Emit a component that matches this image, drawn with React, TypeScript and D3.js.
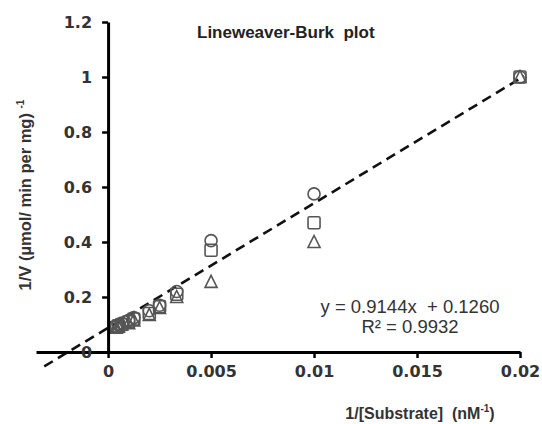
import React, { useRef, useEffect } from 'react';
import * as d3 from 'd3';

// substrate reciprocals (1/nM)
const xValues = [0.02, 0.01, 0.005, 0.003333, 0.0025, 0.002, 0.00125, 0.001, 0.000667, 0.0005, 0.0004];
// 1/V for the three replicate series
const circleValues = [1.0, 0.575, 0.405, 0.22, 0.17, 0.15, 0.125, 0.115, 0.105, 0.1, 0.095];
const squareValues = [1.0, 0.47, 0.37, 0.21, 0.165, 0.14, 0.12, 0.11, 0.1, 0.095, 0.09];
const triangleValues = [1.0, 0.4, 0.255, 0.2, 0.16, 0.135, 0.115, 0.105, 0.1, 0.092, 0.088];

const xTicks = [0, 0.005, 0.01, 0.015, 0.02];
const yTicks = [0, 0.2, 0.4, 0.6, 0.8, 1, 1.2];

// trendline as drawn on the chart
const trendSlope = 45.3;
const trendIntercept = 0.088;
const trendRange = [-0.0031, 0.0202];

const W = 542;
const H = 424;

const LineweaverBurk = () => {
  const ref = useRef<SVGSVGElement>(null);

  useEffect(() => {
    const svg = d3.select(ref.current);
    svg.selectAll('*').remove();

    const x = d3.scaleLinear().domain([-0.0035, 0.02]).range([36, 520]);
    const y = d3.scaleLinear().domain([0, 1.2]).range([352, 22]);
    const font = '"Liberation Sans", Arial, sans-serif';
    const tickFont = '"DejaVu Sans", sans-serif';

    // trendline (drawn behind the markers)
    const line = d3.line<number>().x(d => x(d)).y(d => y(trendSlope * d + trendIntercept));
    svg.append('path')
      .attr('d', line(trendRange))
      .attr('fill', 'none')
      .attr('stroke', '#111')
      .attr('stroke-width', 2.6)
      .attr('stroke-dasharray', '10,6');

    // markers
    const stroke = '#555';
    const sw = 1.6;
    const pts = (vals: number[]) => xValues.map((xv, i) => [x(xv), y(vals[i])]);

    svg.append('g').selectAll('path')
      .data(pts(triangleValues))
      .enter().append('path')
      .attr('d', d => `M${d[0]},${d[1] - 6.5}L${d[0] + 6},${d[1] + 5.5}L${d[0] - 6},${d[1] + 5.5}Z`)
      .attr('fill', 'none').attr('stroke', stroke).attr('stroke-width', sw);

    svg.append('g').selectAll('rect')
      .data(pts(squareValues))
      .enter().append('rect')
      .attr('x', d => d[0] - 6).attr('y', d => d[1] - 6)
      .attr('width', 12).attr('height', 12).attr('rx', 1.5)
      .attr('fill', 'none').attr('stroke', stroke).attr('stroke-width', sw);

    svg.append('g').selectAll('circle')
      .data(pts(circleValues))
      .enter().append('circle')
      .attr('cx', d => d[0]).attr('cy', d => d[1]).attr('r', 6)
      .attr('fill', 'none').attr('stroke', stroke).attr('stroke-width', sw);

    // x axis
    const xAxis = svg.append('g')
      .attr('transform', `translate(0,${y(0)})`)
      .call(d3.axisBottom(x).tickValues(xTicks).tickSize(6).tickSizeOuter(0).tickPadding(8)
        .tickFormat(d => String(d)));
    xAxis.select('.domain').attr('stroke', '#000').attr('stroke-width', 3);
    xAxis.selectAll('.tick line').attr('stroke', '#000').attr('stroke-width', 2.5);
    xAxis.selectAll('.tick text')
      .attr('font-family', tickFont).attr('font-size', 16).attr('font-weight', 'bold').attr('fill', '#333');

    // y axis
    const yAxis = svg.append('g')
      .attr('transform', `translate(${x(0)},0)`)
      .call(d3.axisLeft(y).tickValues(yTicks).tickSize(6).tickSizeOuter(0).tickPadding(10)
        .tickFormat(d => String(d)));
    yAxis.select('.domain').attr('stroke', '#000').attr('stroke-width', 3);
    yAxis.selectAll('.tick line').attr('stroke', '#000').attr('stroke-width', 2.5);
    yAxis.selectAll('.tick text')
      .attr('font-family', tickFont).attr('font-size', 16).attr('font-weight', 'bold').attr('fill', '#333');

    // title
    svg.append('text')
      .attr('x', 197).attr('y', 38)
      .attr('font-family', font).attr('font-size', 17).attr('font-weight', 'bold').attr('fill', '#222')
      .style('white-space', 'pre')
      .text('Lineweaver-Burk  plot');

    // y axis title
    const yt = svg.append('text')
      .attr('transform', 'translate(31,195) rotate(-90)')
      .attr('text-anchor', 'middle')
      .attr('font-family', font).attr('font-size', 16.5).attr('font-weight', 'bold').attr('fill', '#333');
    yt.append('tspan').text('1/V (\u00b5mol/ min per mg) ');
    yt.append('tspan').attr('font-size', 10).attr('dy', -7).text('-1');

    // x axis title
    const xt = svg.append('text')
      .attr('x', 420).attr('y', 419)
      .attr('text-anchor', 'middle')
      .attr('font-family', font).attr('font-size', 16).attr('font-weight', 'bold').attr('fill', '#333')
      .style('white-space', 'pre');
    xt.append('tspan').text('1/[Substrate]  (nM');
    xt.append('tspan').attr('font-size', 10).attr('dy', -7).text('-1');
    xt.append('tspan').attr('dy', 7).text(')');

    // regression label
    svg.append('text')
      .attr('x', 410).attr('y', 313)
      .attr('text-anchor', 'middle')
      .attr('font-family', font).attr('font-size', 18.5).attr('fill', '#333')
      .style('white-space', 'pre')
      .text('y = 0.9144x  + 0.1260');
    svg.append('text')
      .attr('x', 410).attr('y', 333)
      .attr('text-anchor', 'middle')
      .attr('font-family', font).attr('font-size', 18.5).attr('fill', '#333')
      .text('R\u00b2 = 0.9932');
  }, []);

  return (
    <svg ref={ref} width={W} height={H}
      style={{ position: 'absolute', left: 0, top: 0, background: '#fff' }} />
  );
};

export default function App() {
  return <LineweaverBurk />;
}
